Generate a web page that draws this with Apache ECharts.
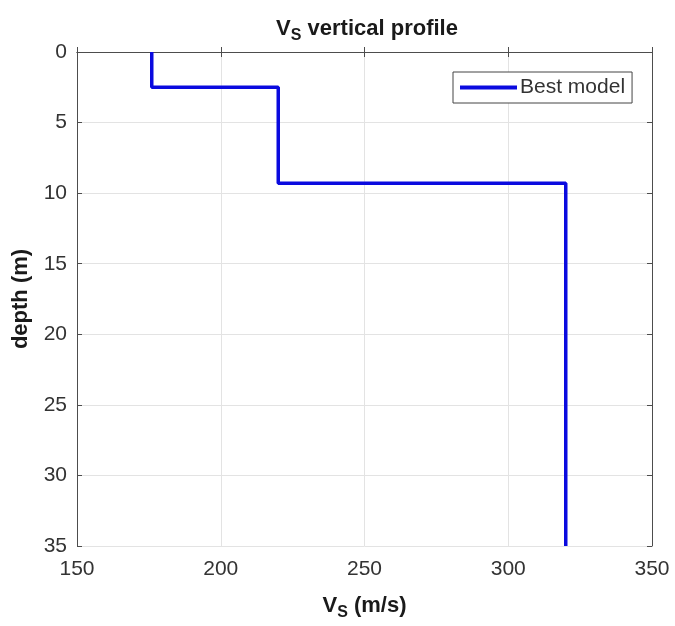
<!DOCTYPE html>
<html><head><meta charset="utf-8">
<script src="https://cdn.jsdelivr.net/npm/echarts@6/dist/echarts.min.js"></script>
<style>html,body{margin:0;padding:0;background:#fff}#c{width:675px;height:626px}</style>
</head><body><div id="c"></div>
<script>
// Data
const layerVs = [176, 220, 320];      // shear-wave velocity of each layer (m/s)
const layerTop = [0, 2.5, 9.3];       // top depth of each layer (m)
const maxDepth = 35;                   // bottom of profile (m)
const xTicks = [150, 200, 250, 300, 350];
const yTicks = [0, 5, 10, 15, 20, 25, 30, 35];
const seriesName = 'Best model';

// Build step profile points from the layer arrays
const pts = [];
for (let i = 0; i < layerVs.length; i++) {
  const bottom = i + 1 < layerTop.length ? layerTop[i + 1] : maxDepth;
  pts.push([layerVs[i], layerTop[i]]);
  pts.push([layerVs[i], bottom]);
}

const font = 'Liberation Sans, Arial, Helvetica, sans-serif';
const axisColor = '#4d4d4d';
const chart = echarts.init(document.getElementById('c'));
const rich = {
  b: {fontFamily: font, fontSize: 22, fontWeight: 'bold', color: '#1a1a1a'},
  s: {fontFamily: font, fontSize: 16, fontWeight: 'bold', color: '#1a1a1a', verticalAlign: 'bottom', padding: [14, 0, 0, 0]}
};
chart.setOption({
  animation: false,
  title: {
    text: '{b|V}{s|S}{b| vertical profile}',
    left: 362, top: 9, textAlign: 'center',
    textStyle: {rich: rich}
  },
  legend: {
    data: [seriesName],
    left: 453, top: 72,
    backgroundColor: '#fff',
    borderColor: '#444', borderWidth: 1, borderRadius: 0,
    padding: [5, 7, 5, 7],
    icon: 'rect',
    itemWidth: 57, itemHeight: 4, itemGap: 0,
    textStyle: {fontFamily: font, fontSize: 21, color: '#333', padding: [0, 0, 0, -2]}
  },
  grid: {left: 77, right: 23, top: 52, bottom: 76, show: false},
  xAxis: [{
    type: 'value', min: xTicks[0], max: xTicks[xTicks.length - 1], interval: 50,
    position: 'bottom',
    name: '{b|V}{s|S}{b| (m/s)}', nameLocation: 'middle', nameGap: 45,
    nameTextStyle: {rich: rich},
    axisLine: {show: true, lineStyle: {color: axisColor, width: 1}},
    axisTick: {show: true, inside: true, length: 5, lineStyle: {color: axisColor}},
    axisLabel: {fontFamily: font, fontSize: 21, color: '#333', margin: 13},
    splitLine: {show: true, lineStyle: {color: '#e3e3e3', width: 1}}
  }, {
    type: 'value', min: xTicks[0], max: xTicks[xTicks.length - 1], interval: 50,
    position: 'top',
    axisLine: {show: true, lineStyle: {color: axisColor, width: 1}},
    axisTick: {show: true, inside: true, length: 5, lineStyle: {color: axisColor}},
    axisLabel: {show: false}, splitLine: {show: false}
  }],
  yAxis: [{
    type: 'value', inverse: true, min: yTicks[0], max: yTicks[yTicks.length - 1], interval: 5,
    position: 'left',
    name: 'depth (m)', nameLocation: 'middle', nameGap: 45, nameRotate: 90,
    nameTextStyle: {fontFamily: font, fontSize: 22, fontWeight: 'bold', color: '#1a1a1a'},
    axisLine: {show: true, lineStyle: {color: axisColor, width: 1}},
    axisTick: {show: true, inside: true, length: 5, lineStyle: {color: axisColor}},
    axisLabel: {fontFamily: font, fontSize: 21, color: '#333', margin: 10},
    splitLine: {show: true, lineStyle: {color: '#e3e3e3', width: 1}}
  }, {
    type: 'value', inverse: true, min: yTicks[0], max: yTicks[yTicks.length - 1], interval: 5,
    position: 'right',
    axisLine: {show: true, lineStyle: {color: axisColor, width: 1}},
    axisTick: {show: true, inside: true, length: 5, lineStyle: {color: axisColor}},
    axisLabel: {show: false}, splitLine: {show: false}
  }],
  series: [{
    name: seriesName, type: 'line', data: pts,
    xAxisIndex: 0, yAxisIndex: 0,
    symbol: 'none', clip: false,
    lineStyle: {color: '#0a0adf', width: 3.5},
    itemStyle: {color: '#0a0adf'}
  }]
});
</script></body></html>
